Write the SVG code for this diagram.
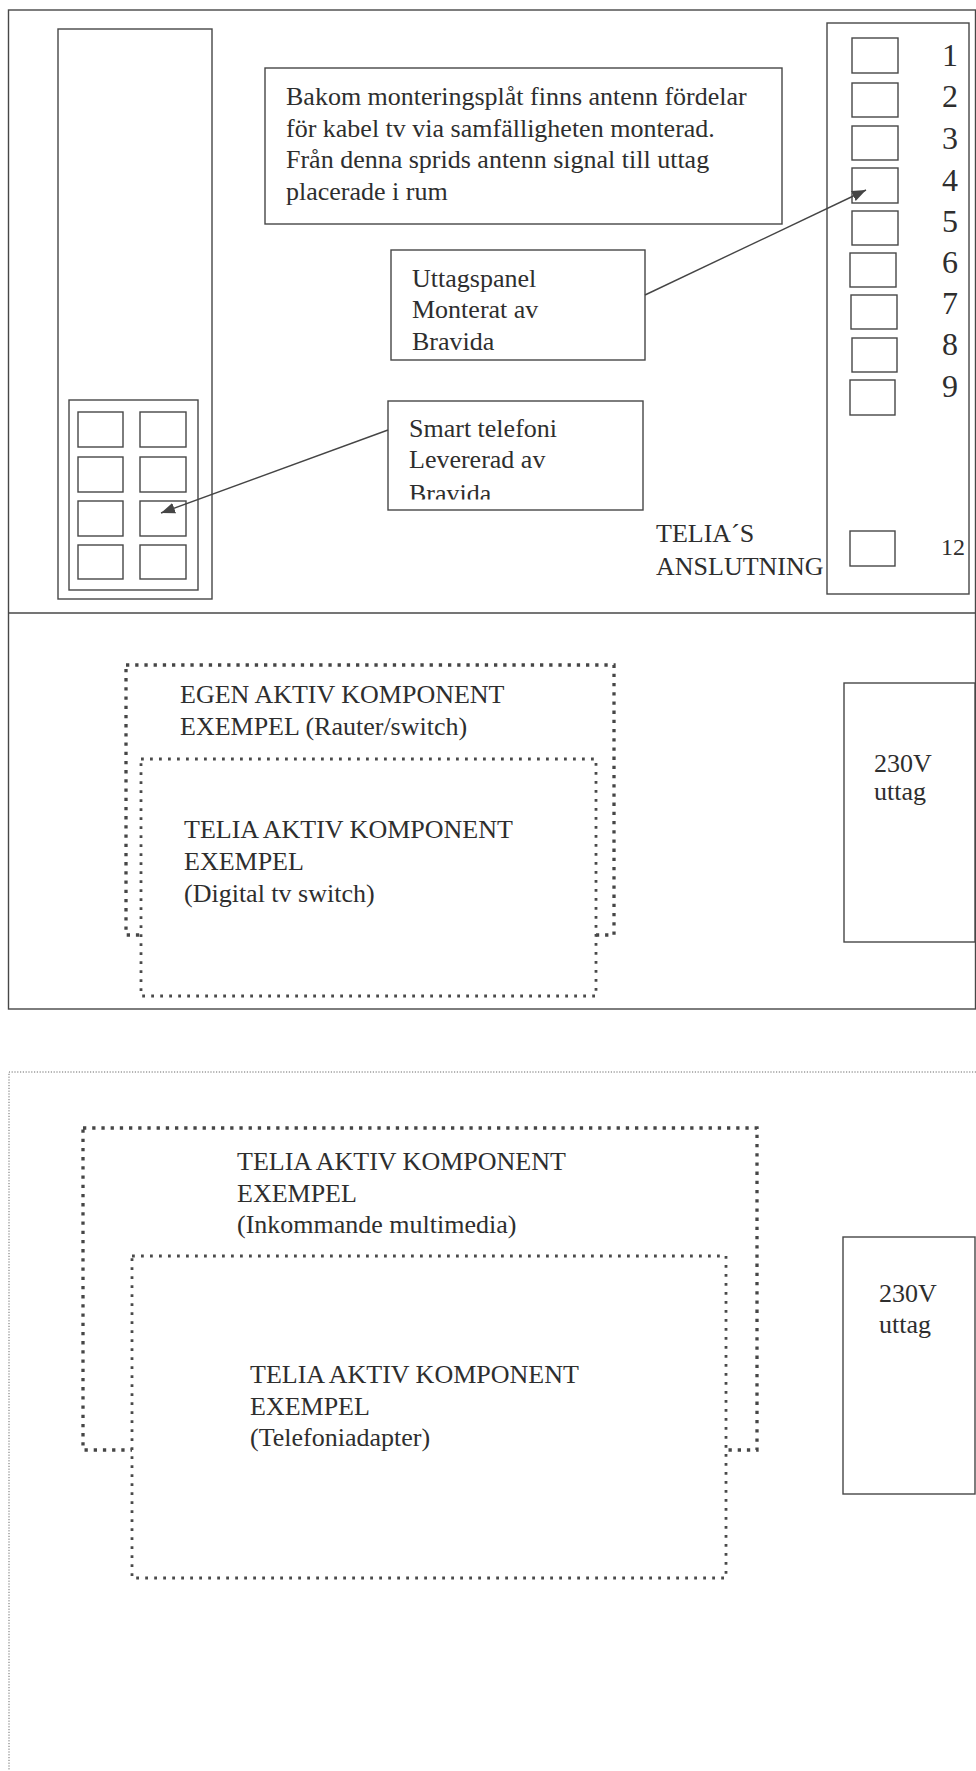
<svg xmlns="http://www.w3.org/2000/svg" width="976" height="1771" viewBox="0 0 976 1771">
<style>
.ln{fill:#fff;stroke:#474747;stroke-width:1.4}
.nf{fill:none;stroke:#474747;stroke-width:1.4}
.dot{fill:#fff;stroke:#464646;stroke-width:3.3;stroke-dasharray:3.3 5.9}
.doti{fill:#fff;stroke:#4a4a4a;stroke-width:2.8;stroke-dasharray:2.8 6.2}
.fine{fill:none;stroke:#6a6a6a;stroke-width:1;stroke-dasharray:1.2 1.6}
text{font-family:"Liberation Serif","Times New Roman",serif;font-size:26px;fill:#2e2e2e}
.num{font-size:32px;text-anchor:middle}
.con{stroke:#454545;stroke-width:1.4;fill:none}
</style>
<defs>
<marker id="ah" viewBox="0 0 14 11" refX="14" refY="5.5" markerWidth="14" markerHeight="11" markerUnits="userSpaceOnUse" orient="auto">
<path d="M0,0 L14,5.5 L0,11 z" fill="#454545"/>
</marker>
<clipPath id="clipSmart"><rect x="389" y="402" width="253" height="97.5"/></clipPath>
</defs>
<rect width="976" height="1771" fill="#fff"/>

<g id="frame">
<rect class="nf" x="8.5" y="10" width="967" height="999"/>
<line class="nf" x1="8.5" y1="613" x2="976" y2="613"/>
</g>

<g id="mounting-plate">
<rect class="ln" x="58" y="29" width="154" height="570"/>
</g>

<g id="smart-telefoni-panel">
<rect class="ln" x="69" y="400" width="129" height="190"/>
<rect class="ln" x="78" y="412" width="45" height="35"/>
<rect class="ln" x="140" y="412" width="46" height="35"/>
<rect class="ln" x="78" y="457" width="45" height="35"/>
<rect class="ln" x="140" y="457" width="46" height="35"/>
<rect class="ln" x="78" y="501" width="45" height="35"/>
<rect class="ln" x="140" y="501" width="46" height="35"/>
<rect class="ln" x="78" y="545" width="45" height="34"/>
<rect class="ln" x="140" y="545" width="46" height="34"/>
</g>

<g id="note-antenn">
<rect class="ln" x="265" y="68" width="517" height="156"/>
<text x="286" y="105">Bakom monteringsplåt finns antenn fördelar</text>
<text x="286" y="137">för kabel tv via samfälligheten monterad.</text>
<text x="286" y="168">Från denna sprids antenn signal till uttag</text>
<text x="286" y="200">placerade i rum</text>
</g>

<g id="label-uttagspanel">
<rect class="ln" x="391" y="250" width="254" height="110"/>
<text x="412" y="287">Uttagspanel</text>
<text x="412" y="318">Monterat av</text>
<text x="412" y="350">Bravida</text>
</g>

<g id="label-smart-telefoni">
<rect class="ln" x="388" y="401" width="255" height="109"/>
<g clip-path="url(#clipSmart)">
<text x="409" y="437">Smart telefoni</text>
<text x="409" y="468">Levererad av</text>
<text x="409" y="502">Bravida</text>
</g>
</g>

<g id="uttagspanel">
<rect class="ln" x="827" y="23" width="142" height="571"/>
<rect class="ln" x="852" y="38" width="46" height="35"/>
<rect class="ln" x="852" y="83" width="46" height="34"/>
<rect class="ln" x="852" y="126" width="46" height="34"/>
<rect class="ln" x="852" y="168" width="46" height="35"/>
<rect class="ln" x="852" y="211" width="46" height="34"/>
<rect class="ln" x="850" y="253" width="46" height="34"/>
<rect class="ln" x="851" y="295" width="46" height="34"/>
<rect class="ln" x="852" y="338" width="45" height="34"/>
<rect class="ln" x="850" y="380" width="45" height="35"/>
<rect class="ln" x="850" y="531" width="45" height="35"/>
<text class="num" x="950" y="66">1</text>
<text class="num" x="950" y="107">2</text>
<text class="num" x="950" y="149">3</text>
<text class="num" x="950" y="191">4</text>
<text class="num" x="950" y="232">5</text>
<text class="num" x="950" y="273">6</text>
<text class="num" x="950" y="314">7</text>
<text class="num" x="950" y="355">8</text>
<text class="num" x="950" y="397">9</text>
<text x="941" y="555" style="font-size:24px">12</text>
</g>

<g id="label-telia-anslutning">
<text x="656" y="542">TELIA´S</text>
<text x="656" y="575">ANSLUTNING</text>
</g>

<g id="egen-aktiv-komponent">
<rect class="dot" x="126" y="665" width="488" height="270"/>
<text x="180" y="703">EGEN AKTIV KOMPONENT</text>
<text x="180" y="735">EXEMPEL (Rauter/switch)</text>
</g>

<g id="telia-digital-tv-switch">
<rect class="doti" x="141" y="759" width="455" height="237"/>
<text x="184" y="838">TELIA AKTIV KOMPONENT</text>
<text x="184" y="870">EXEMPEL</text>
<text x="184" y="902">(Digital tv switch)</text>
</g>

<g id="uttag-230v-1">
<rect class="ln" x="844" y="683" width="131" height="259"/>
<text x="874" y="772">230V</text>
<text x="874" y="800">uttag</text>
</g>

<g id="lower-area">
<path class="fine" d="M976,1072 H9 V1771"/>
</g>

<g id="telia-inkommande-multimedia">
<rect class="dot" x="83" y="1128" width="674" height="322"/>
<text x="237" y="1170">TELIA AKTIV KOMPONENT</text>
<text x="237" y="1202">EXEMPEL</text>
<text x="237" y="1233">(Inkommande multimedia)</text>
</g>

<g id="telia-telefoniadapter">
<rect class="doti" x="132" y="1256" width="594" height="322"/>
<text x="250" y="1383">TELIA AKTIV KOMPONENT</text>
<text x="250" y="1415">EXEMPEL</text>
<text x="250" y="1446">(Telefoniadapter)</text>
</g>

<g id="uttag-230v-2">
<rect class="ln" x="843" y="1237" width="132" height="257"/>
<text x="879" y="1302">230V</text>
<text x="879" y="1333">uttag</text>
</g>

<g id="connectors">
<line class="con" x1="645" y1="295" x2="866" y2="190" marker-end="url(#ah)"/>
<line class="con" x1="388" y1="430" x2="161" y2="513" marker-end="url(#ah)"/>
</g>
</svg>
